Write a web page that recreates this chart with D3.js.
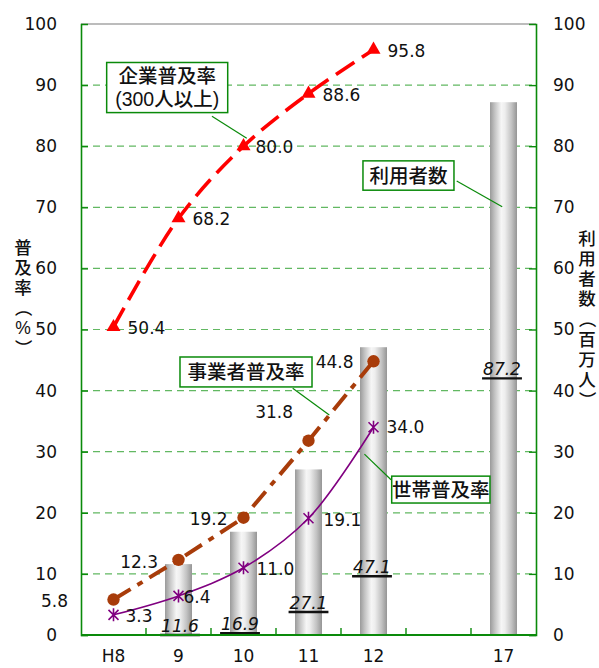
<!DOCTYPE html>
<html>
<head>
<meta charset="utf-8">
<script src="https://cdn.jsdelivr.net/npm/d3@7"></script>
<style>
  html, body { margin: 0; padding: 0; background: #fff; }
  svg { display: block; }
  text { font-family: "DejaVu Sans", "Noto Sans CJK JP", sans-serif; fill: #111; }
  .vt { font-family: "Liberation Sans", "Noto Sans CJK JP", sans-serif; }
</style>
</head>
<body>
<svg id="chart" width="599" height="668"></svg>
<script>
// x-axis slots (one empty slot between 12 and 17)
const slots = ["H8", "9", "10", "11", "12", "", "17"];
const surveyYears = ["H8", "9", "10", "11", "12"];

// 企業普及率（300人以上）, %
const corpRate = [50.4, 68.2, 80.0, 88.6, 95.8];
// 事業者普及率, %
const bizRate = [5.8, 12.3, 19.2, 31.8, 44.8];
// 世帯普及率, %
const houseRate = [3.3, 6.4, 11.0, 19.1, 34.0];

// 利用者数（百万人）
const userYears = ["9", "10", "11", "12", "17"];
const users = [11.6, 16.9, 27.1, 47.1, 87.2];

const leftTicks = [0, 10, 20, 30, 40, 50, 60, 70, 80, 90, 100];
const rightTicks = [0, 10, 20, 30, 40, 50, 60, 70, 80, 90, 100];

const svg = d3.select("#chart");
const L = 81, R = 536, T = 24, B = 635;

const x = d3.scaleBand().domain(slots).range([L, R]).padding(0);
const yL = d3.scaleLinear().domain([0, 100]).range([B, T]);
const yR = d3.scaleLinear().domain([0, 100]).range([B, T]);
const cx = d => x(d) + x.bandwidth() / 2;
// fractional slot position -> pixel, used for callouts
const px = s => L + s * x.bandwidth();

const green = "#0a8a0a";

// gradient for cylinder-like bars
const defs = svg.append("defs");
const grad = defs.append("linearGradient").attr("id", "barGrad")
  .attr("x1", "0%").attr("x2", "100%").attr("y1", "0%").attr("y2", "0%");
[[0, "#9a9a9a"], [0.18, "#c4c4c4"], [0.42, "#f6f6f6"], [0.55, "#eeeeee"], [0.8, "#c2c2c2"], [1, "#959595"]]
  .forEach(([o, c]) => grad.append("stop").attr("offset", o).attr("stop-color", c));

// gridlines
svg.append("g").selectAll("line").data(leftTicks.filter(v => v > 0 && v < 100)).join("line")
  .attr("x1", L).attr("x2", R).attr("y1", d => yL(d)).attr("y2", d => yL(d))
  .attr("stroke", "#62b862").attr("stroke-width", 1.2).attr("stroke-dasharray", "7,5");
svg.append("line").attr("x1", L).attr("x2", R).attr("y1", yL(100)).attr("y2", yL(100))
  .attr("stroke", "#a6a6a6").attr("stroke-width", 1.5);

// bars
const barW = 27;
svg.append("g").selectAll("rect").data(users).join("rect")
  .attr("x", (d, i) => cx(userYears[i]) - barW / 2)
  .attr("width", barW)
  .attr("y", d => yR(d))
  .attr("height", d => yR(0) - yR(d))
  .attr("fill", "url(#barGrad)");

// bar value labels (italic, underlined), baseline given in right-axis units
const barLabelAt = [0.5, 0.8, 4.25, 10.1, 42.5];
const barLabelDx = [1.5, -3.5, 0, -1.5, -1.5];
const bl = svg.append("g");
users.forEach((v, i) => {
  const tx = cx(userYears[i]) + barLabelDx[i];
  const ty = yR(barLabelAt[i]);
  const t = bl.append("text").attr("x", tx).attr("y", ty)
    .attr("text-anchor", "middle").attr("font-size", 17).attr("font-style", "italic")
    .text(v.toFixed(1));
  const w = t.node().getComputedTextLength();
  bl.append("line").attr("x1", tx - w / 2 - 1).attr("x2", tx + w / 2 + 1)
    .attr("y1", ty + 3).attr("y2", ty + 3).attr("stroke", "#111").attr("stroke-width", 2.4);
});

// axes
const axL = svg.append("g").attr("transform", `translate(${L},0)`)
  .call(d3.axisLeft(yL).tickValues(leftTicks).tickSize(-7).tickPadding(24).tickFormat(d3.format("d")));
const axR = svg.append("g").attr("transform", `translate(${R},0)`)
  .call(d3.axisRight(yR).tickValues(rightTicks).tickSize(-7).tickPadding(17).tickFormat(d3.format("d")));
[axL, axR].forEach(g => {
  g.select(".domain").attr("stroke", green).attr("stroke-width", 1.6);
  g.selectAll(".tick line").attr("stroke", green).attr("stroke-width", 1.4);
  g.selectAll(".tick text").attr("font-size", 17).attr("font-family", "DejaVu Sans").attr("fill", "#111");
});
axL.select(".tick:last-of-type line").remove();
axR.select(".tick:last-of-type line").remove();

// bottom axis: labels at slot centers, ticks at slot boundaries
svg.append("line").attr("x1", L).attr("x2", R).attr("y1", B).attr("y2", B)
  .attr("stroke", green).attr("stroke-width", 1.8);
svg.append("g").selectAll("line").data(slots.slice(1)).join("line")
  .attr("x1", d => x(d)).attr("x2", d => x(d)).attr("y1", B).attr("y2", B - 7)
  .attr("stroke", green).attr("stroke-width", 1.4);
svg.append("g").selectAll("text").data(slots.filter(s => s !== "")).join("text")
  .attr("x", d => cx(d)).attr("y", 662).attr("text-anchor", "middle").attr("font-size", 17)
  .text(d => d);

// series lines
const lineGen = curve => d3.line().x((d, i) => cx(surveyYears[i])).y(d => yL(d)).curve(curve);

svg.append("path").datum(houseRate).attr("d", lineGen(d3.curveCatmullRom))
  .attr("fill", "none").attr("stroke", "#800080").attr("stroke-width", 1.6);

const brown = "#a83c0a";
svg.append("path").datum(bizRate).attr("d", lineGen(d3.curveLinear))
  .attr("fill", "none").attr("stroke", brown).attr("stroke-width", 4)
  .attr("stroke-dasharray", "20,8,6,8");

svg.append("path").datum(corpRate).attr("d", lineGen(d3.curveCatmullRom))
  .attr("fill", "none").attr("stroke", "#ff0000").attr("stroke-width", 3.6)
  .attr("stroke-dasharray", "22,9");

// markers
svg.append("g").selectAll("path").data(houseRate).join("path")
  .attr("transform", (d, i) => `translate(${cx(surveyYears[i])},${yL(d)})`)
  .attr("d", "M0,-6.5L0,6.5M-5,-5L5,5M-5,5L5,-5")
  .attr("stroke", "#800080").attr("stroke-width", 1.6).attr("fill", "none");

svg.append("g").selectAll("circle").data(bizRate).join("circle")
  .attr("cx", (d, i) => cx(surveyYears[i])).attr("cy", d => yL(d)).attr("r", 6.2)
  .attr("fill", brown);

svg.append("g").selectAll("path").data(corpRate).join("path")
  .attr("transform", (d, i) => `translate(${cx(surveyYears[i])},${yL(d)})`)
  .attr("d", d3.symbol(d3.symbolTriangle, 85))
  .attr("fill", "#ff0000");

// data labels
const lbl = (vals, dx, dy, anchor) => svg.append("g").selectAll("text").data(vals).join("text")
  .attr("x", (d, i) => cx(surveyYears[i]) + dx[i])
  .attr("y", (d, i) => yL(d) + dy[i])
  .attr("text-anchor", anchor).attr("dominant-baseline", "central").attr("font-size", 17)
  .text(d => d.toFixed(1));

lbl(corpRate, [14, 14, 12, 14, 14], [1, 1, 1, 1, 1], "start");
lbl(bizRate, [-45.5, -20.5, -16, -15.5, -20], [1, 2, 1, -29, 1], "end");
lbl(houseRate, [12, 5, 13, 15, 13], [1, 1, 1, 2, 0], "start");

// callout boxes with leader lines (positions in slot / axis units)
const callouts = [
  { lines: ["企業普及率", "(300人以上)"], box: [0.395, 93.7, 2.257, 85.5], lead: [2.015, 84.9, 2.55, 81.3] },
  { lines: ["事業者普及率"], box: [1.523, 45.5, 3.554, 40.6], lead: [3.257, 40.4, 3.82, 36.0] },
  { lines: ["利用者数"], box: [4.338, 77.6, 5.738, 72.8], lead: [5.78, 74.3, 6.48, 70.1] },
  { lines: ["世帯普及率"], box: [4.78, 26.0, 6.292, 21.6], lead: [4.77, 25.4, 4.36, 29.6] }
];
const cg = svg.append("g");
callouts.forEach(c => {
  cg.append("line")
    .attr("x1", px(c.lead[0])).attr("y1", yL(c.lead[1]))
    .attr("x2", px(c.lead[2])).attr("y2", yL(c.lead[3]))
    .attr("stroke", green).attr("stroke-width", 1.2);
  const x0 = px(c.box[0]), y0 = yL(c.box[1]), x1 = px(c.box[2]), y1 = yL(c.box[3]);
  cg.append("rect").attr("x", x0).attr("y", y0).attr("width", x1 - x0).attr("height", y1 - y0)
    .attr("fill", "#fff").attr("stroke", green).attr("stroke-width", 1.5);
  const n = c.lines.length, lh = 23;
  c.lines.forEach((s, k) => {
    cg.append("text").attr("class", "vt")
      .attr("x", (x0 + x1) / 2)
      .attr("y", (y0 + y1) / 2 + (k - (n - 1) / 2) * lh)
      .attr("text-anchor", "middle").attr("dominant-baseline", "central")
      .attr("font-size", 19.5).attr("font-weight", 500)
      .text(s);
  });
});

// vertical axis titles, one glyph per row; brackets turned for vertical setting
function verticalTitle(str, xc, yTop, step, fs) {
  const g = svg.append("g");
  Array.from(str).forEach((ch, i) => {
    const yc = yTop + i * step;
    const t = g.append("text").attr("class", "vt")
      .attr("x", xc).attr("y", yc)
      .attr("text-anchor", "middle").attr("dominant-baseline", "central")
      .attr("font-size", fs).attr("font-weight", 500).text(ch);
    if (ch === "（" || ch === "）") t.attr("transform", `rotate(90,${xc},${yc})`);
  });
}
verticalTitle("普及率（%）", 23, 248, 20, 17.5);
verticalTitle("利用者数（百万人）", 587, 238.5, 20.2, 17.5);
</script>
</body>
</html>
